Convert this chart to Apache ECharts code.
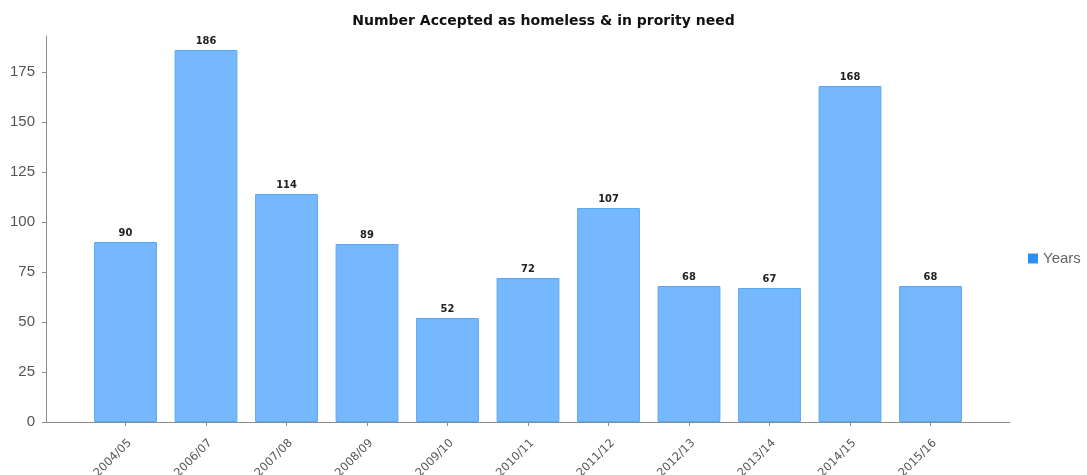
<!DOCTYPE html>
<html><head><meta charset="utf-8">
<script src="https://cdn.jsdelivr.net/npm/echarts@6/dist/echarts.min.js"></script>
<style>html,body{margin:0;padding:0;background:#fff}#c{width:1087px;height:475px}</style>
</head><body><div id="c"></div>
<script>
const categories = ['2004/05','2006/07','2007/08','2008/09','2009/10','2010/11','2011/12','2012/13','2013/14','2014/15','2015/16'];
const values = [90,186,114,89,52,72,107,68,67,168,68];
const yTicks = [0,25,50,75,100,125,150,175];
const seriesName = 'Years';
const titleText = 'Number Accepted as homeless & in prority need';

const chart = echarts.init(document.getElementById('c'), null, {renderer:'canvas'});
const axisGray = '#8c8c8c';
chart.setOption({
  animation:false,
  title:{text:titleText,left:'center',top:9,textStyle:{fontFamily:'DejaVu Sans',fontWeight:'bold',fontSize:14,color:'#111'}},
  legend:{orient:'vertical',left:1028,top:251,padding:0,itemWidth:10,itemHeight:10,itemGap:6,icon:'rect',
    textStyle:{fontFamily:'Liberation Sans',fontSize:15,color:'#666'},data:[{name:seriesName,itemStyle:{color:'#2b8ff0',borderWidth:0}}]},
  grid:[
    {left:46,right:77,top:36,bottom:53,outerBoundsMode:'none',containLabel:false},
    {left:85.25,right:116.25,top:36,bottom:53,outerBoundsMode:'none',containLabel:false}
  ],
  xAxis:[
    {gridIndex:0,type:'value',min:0,max:1,axisLine:{show:true,lineStyle:{color:axisGray,width:1}},axisTick:{show:false},axisLabel:{show:false},splitLine:{show:false}},
    {gridIndex:1,type:'category',data:categories,axisLine:{show:false},
      axisTick:{show:true,alignWithLabel:true,length:4,lineStyle:{color:axisGray}},
      axisLabel:{rotate:45,margin:15,align:'right',verticalAlign:'top',fontFamily:'DejaVu Sans',fontSize:11.5,color:'#555'}}
  ],
  yAxis:[
    {gridIndex:0,type:'value',min:0,max:193,interval:25,
      axisLine:{show:true,lineStyle:{color:axisGray,width:1}},
      axisTick:{show:true,length:4,customValues:yTicks,lineStyle:{color:axisGray}},
      axisLabel:{customValues:yTicks,margin:11,fontFamily:'Liberation Sans',fontSize:15,color:'#555'},
      splitLine:{show:false}},
    {gridIndex:1,type:'value',min:0,max:193,show:false,splitLine:{show:false}}
  ],
  series:[{
    name:seriesName,type:'bar',xAxisIndex:1,yAxisIndex:1,data:values,barWidth:'78%',
    itemStyle:{color:'#75b8fd',borderColor:'#59a8f3',borderWidth:1},
    label:{show:true,position:'top',distance:3,fontFamily:'DejaVu Sans Condensed',fontWeight:'bold',fontSize:11,color:'#222'}
  }]
});
</script></body></html>
